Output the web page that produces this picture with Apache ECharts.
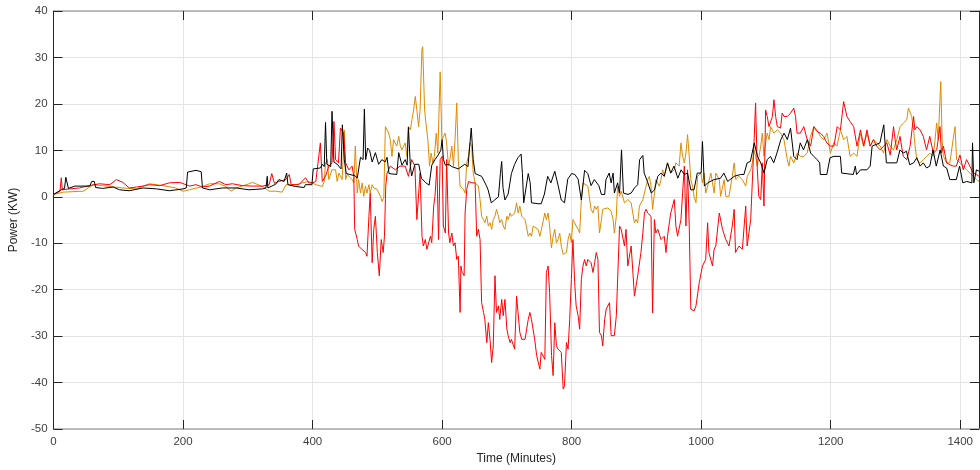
<!DOCTYPE html>
<html>
<head>
<meta charset="utf-8">
<script src="https://cdn.jsdelivr.net/npm/echarts@6/dist/echarts.min.js"></script>
<style>
html,body{margin:0;padding:0;background:#fff;}
#chart{width:980px;height:470px;}
</style>
</head>
<body>
<div id="chart"></div>
<script>
// Tick labels
const xTicks = [0, 200, 400, 600, 800, 1000, 1200, 1400];
const yTicks = [-50, -40, -30, -20, -10, 0, 10, 20, 30, 40];

// Series values: [time (minutes), power (kW)]
const redSeries = [[0,0.5],[10,1.2],[12,4.1],[13.5,1.5],[25,1.7],[40,1.9],[55,2.4],[71,2.8],[87,2.6],[97,3.7],[107,3.1],[117,1.9],[128,2.1],[138,2.3],[148,2.6],[164,2.4],[179,3],[195,3.1],[210,2.3],[220,2.6],[230,2.1],[241,2.3],[256,3.3],[266,2.6],[276,2.8],[292,2.4],[307,2.3],[323,2.3],[333,2.6],[337,5],[341,2.9],[348,3.3],[359,3.7],[364,4.8],[367,2.6],[379,2.6],[389,4.1],[394,3],[400,3],[405,3.3],[412,11.6],[415,3.3],[420,4.4],[425,6.6],[430,7.3],[433,16.2],[435.5,8],[440,7.3],[443,14.8],[448,13.7],[451,7.3],[456,5.8],[461,6.6],[463.7,4.4],[465,-7],[469,-9.2],[471,-10.6],[476,-11.3],[482,-12],[484,-12.8],[487,-4.2],[489,0.8],[492,-14.2],[494.5,-7],[497,-4.2],[500,-12],[503,-17],[506,-9.2],[509,-12],[511,-8.5],[513,2.3],[515,5.1],[520,6.6],[528,5.8],[535,6.6],[543,6.6],[548,4.4],[553,8],[558,6.6],[561,-4.9],[564,-4.9],[566,5.1],[569,-8.5],[571,-10.6],[574,-9.2],[576.5,-11.3],[582,-8.5],[584,-9.9],[587,-2],[589,0.1],[592,6.6],[594.5,-9.2],[597,8],[600,8.7],[602,-6.3],[605,-7.8],[607,8],[610,-7.8],[612,-9.9],[615,-7.8],[617.5,-10.6],[620,-9.9],[622.6,-13.5],[625,-12.8],[627.8,-24.9],[629,-14.9],[631,-16.3],[634,-17],[635.5,-3.5],[638,1.6],[641,3.3],[646,3],[651,3],[653.4,-8.5],[656,-7],[658.6,-9.2],[661,-22.8],[664,-24.9],[666,-26.4],[669,-31.4],[671.4,-27.1],[674,-30.7],[676.5,-35.7],[679,-32.1],[681.6,-17],[684,-24.9],[687,-23.5],[689,-26.4],[692,-22.1],[694.4,-25.6],[697,-22.1],[700,-28.5],[702,-29.9],[705,-31.4],[707,-30.7],[712,-32.8],[715,-21.4],[717.5,-21.4],[720,-29.2],[723,-30.7],[728,-30.7],[733,-26.4],[735.5,-24.9],[738,-26.4],[743,-30.7],[746,-34.2],[748,-34.2],[751,-37.1],[753,-33.5],[758.6,-35],[761,-16.3],[763.7,-14.9],[766,-20.6],[769,-34.2],[771.4,-38.5],[774,-27.1],[776.5,-32.1],[779,-32.8],[782,-32.8],[784,-33.5],[787,-41.4],[789,-40.7],[792,-31.4],[794.5,-32.8],[797,-26.4],[799.6,-17.8],[802,-9.2],[804.7,-18.5],[807,-23.5],[810,-25.6],[812.4,-28.5],[815,-17.8],[817.5,-14.9],[820,-13.5],[822.6,-14.9],[825,-13.5],[830,-14.2],[833,-16.3],[835.5,-14.2],[838,-12],[840.6,-13.5],[843,-29.2],[846,-29.9],[848,-32.1],[851,-26.4],[853.4,-24.2],[858.5,-22.8],[861,-29.9],[866,-29.9],[869,-25.6],[874,-6.3],[876.5,-7],[881.6,-10.6],[884,-7],[886.7,-14.9],[891.9,-10.6],[897,-21.4],[902,-17],[907,-12],[910,-7.8],[912.4,-3.5],[915,-2.7],[917.5,-3.5],[922.6,-4.2],[925,-25],[927.8,-4.9],[930,-7.8],[933,-7],[938,-9.2],[943,-8.5],[945.7,-12],[948,-8.5],[953,-3.5],[958.5,-0.6],[961,-6.3],[963.6,-8.5],[968.8,-4.9],[974,6.6],[976.5,-6.3],[979,5.8],[981.6,-6.3],[984,-24.2],[989,-24.6],[992,-23.5],[997,-18.5],[1002,-14.9],[1007,-13.5],[1010,-5.6],[1012,-12],[1017.5,-14.9],[1020,-11.3],[1022.6,-10.6],[1028,-3.5],[1033,-7],[1038,-9.2],[1043,-10.6],[1048,-6.3],[1051,-2.7],[1053,-12],[1058.5,-10.6],[1063.6,-11.3],[1068.8,-2],[1071,-10.6],[1076.5,-4.9],[1079,-4.9],[1081.6,11.6],[1084,20.2],[1086.7,5.8],[1089,0.1],[1092,-0.6],[1094.4,7.3],[1097,-2],[1099.5,18.7],[1102,17.3],[1104.7,15.1],[1110,17.3],[1112.4,20.9],[1115,17.3],[1117.5,15.1],[1122.6,14.8],[1125,18],[1128,17.3],[1133,17.3],[1138,18],[1143,19.1],[1145.7,17.3],[1148,13.7],[1153,13.7],[1158.5,15.1],[1163.7,12.3],[1169,10.9],[1174,15.1],[1179,14],[1184,13.7],[1189,13],[1194,11.6],[1199.5,10.9],[1205,10.9],[1210,15.1],[1215,14.4],[1220,20.5],[1222.6,20.9],[1225,17.3],[1230,16.2],[1235.5,15.1],[1240.6,10.9],[1246,14.4],[1251,10.9],[1256,14.4],[1261,10.9],[1266,12.3],[1271,10.9],[1276.5,10.1],[1281.6,10.9],[1286.7,11.6],[1292,9],[1297,15.1],[1299.5,12.3],[1302,10.1],[1307,13],[1312,8.7],[1317.5,8],[1322.6,10.9],[1328,17.3],[1330,14.4],[1333,15.1],[1338,14.4],[1343,13],[1348,10.1],[1353,13],[1358.5,9.4],[1363.7,10.1],[1368.8,15.1],[1371,9.4],[1374,10.9],[1379,7.3],[1384,6.9],[1389,6.6],[1394,6.6],[1399.6,9],[1404.7,5.8],[1409.8,8],[1415,6.6],[1420,5.1],[1425,4.8],[1429,4.4]];

const orangeSeries = [[0,0.5],[2,0.5],[15,1],[46,1.2],[61,2.6],[76,2.4],[107,1.9],[128,1.7],[148,2.8],[169,2.4],[189,1.9],[200,1.2],[210,1.5],[230,2.2],[241,2.8],[256,2.8],[266,2.2],[274,1.2],[282,1.9],[302,2.8],[307,3.1],[323,2.2],[333,1.2],[343,1.2],[353,1],[359,2.6],[374,2.6],[384,3],[394,3.3],[405,2.6],[415,2.2],[418,3.3],[420,7.3],[423,8],[425,3.7],[430,5.8],[435.5,5.8],[438,3.3],[440.6,5.1],[445.7,3.7],[449,14.4],[451,3.7],[453.4,4.8],[461,3.7],[463.7,3],[466,10.9],[469,0.8],[471,3.7],[474,0.8],[476.5,3],[479,0.1],[481.6,2.3],[484,0.8],[487,2.6],[489,0.8],[492,2.6],[494.5,1.9],[499.6,1.6],[504.7,0.1],[507.3,-1],[510,-0.2],[512.4,15.1],[515,15.1],[517.5,13.7],[520,12.3],[522.6,8.7],[525,12.3],[527.8,12.6],[530,10.9],[533,13],[535.5,10.9],[538,10.1],[540.6,10.9],[543,11.6],[545.7,8.7],[548,15.1],[551,14.4],[553.4,16.6],[556,18.7],[558.6,21.6],[561,18.7],[563.7,15.1],[566,18.7],[568.8,31.6],[570,32.3],[573,18.7],[575,15.9],[578,12.3],[580.6,6.6],[583,9.4],[585.8,7.3],[588,8.7],[591,13.7],[593.4,9.4],[597,26.9],[599.6,12.3],[602,12.3],[604.7,13.7],[607,11.6],[609.8,6.6],[612,8],[615,10.9],[617.5,6.6],[620,12.3],[622.6,20.2],[625,8],[627.8,2.3],[630,2.3],[633,1.6],[635.5,0.8],[638,7.3],[640.6,8.7],[643,11.6],[645.7,10.9],[648,5.1],[651,3],[653.4,3],[656,2.3],[658.6,-0.6],[661,-4.2],[663.7,-4.9],[666,-5.6],[669,-4.2],[671.4,-6.3],[674,-5.6],[676.5,-7],[679,-4.9],[681.6,-4.2],[684,-2.7],[687,-4.2],[689,-5.6],[692,-4.9],[694.4,-6.3],[697,-7],[700,-4.2],[702,-4.9],[705,-3.5],[707,-4.2],[712,-3.5],[715,-1.3],[717.5,-3.5],[720,-2],[723,-4.2],[728,-4.9],[730,-6.3],[733,-8.5],[735.5,-7.8],[738,-8.5],[740.6,-6.3],[743,-6.3],[748,-7],[751,-8.5],[753.4,-7],[756,-7],[758.6,-3.5],[761,-4.9],[763.7,-3.5],[766,-6.3],[768.8,-11],[771.4,-8.5],[774,-7],[776.5,-9.9],[779,-9.2],[781.6,-7.8],[784,-10.6],[787,-12.4],[789,-12.4],[792,-12],[794.5,-9.2],[797,-7.8],[799.6,-9.9],[802,-4.9],[804.7,-5.6],[807,-6.3],[810,-7],[812.4,-7.8],[815,-0.6],[817.5,3],[820,2.6],[825,2.3],[828,2.3],[830,-2.7],[833,-3.5],[835.5,-2],[838,-2.7],[840.6,-2],[843,-7.8],[846,-4.9],[848,-2.7],[851,-2.7],[856,-2.4],[861,-3.1],[864,-4.9],[866,-7.8],[869,-4.2],[871,2.3],[874,0.1],[876.5,1.2],[881.6,-1.3],[886.7,-0.6],[891.9,-1.3],[894.4,-3.5],[897,-5.6],[899.5,-4.9],[902,-5.6],[904.7,-2],[910,-0.6],[912.4,0.8],[915,2.3],[917.5,3.7],[920,4.4],[922.6,2.3],[925,-2.7],[928,0.8],[930,3.7],[935.5,2.3],[938,3.7],[940.6,5.8],[943,4.4],[948,7.3],[953,5.1],[958.5,5.8],[961,7.3],[966,6.6],[968.8,11.6],[971.4,8.7],[974,7.3],[976.5,9.4],[979,13.4],[981.6,8.7],[984,3.7],[986.7,2.3],[989,0.1],[992,-1.3],[994.4,4.4],[999.5,5.1],[1002,3],[1004.7,5.1],[1007,0.8],[1010,2.3],[1015,5.1],[1017.5,3],[1020,0.8],[1022.6,5.1],[1028,3.7],[1030,0.1],[1033,0.1],[1035.5,3.7],[1038,0.1],[1043,0.1],[1048,4.4],[1051,7.3],[1053.4,3.7],[1058.5,4.4],[1063.6,3.7],[1068.8,2.3],[1071.3,4.4],[1076.5,5.8],[1079,7.3],[1081.6,10.1],[1084,8.7],[1086.7,6.6],[1092,10.9],[1094.4,13.7],[1097,8.7],[1099.5,11.6],[1102,13.7],[1104.7,12.3],[1107.2,15.1],[1112.4,13.7],[1117.5,14.4],[1122.6,13.7],[1127.8,12.3],[1133,8],[1135.5,6.6],[1138,8.7],[1143,7.3],[1148.3,9.4],[1153.4,8.7],[1158.5,8.7],[1163.7,9.4],[1168.8,13],[1174,15.1],[1179,14.4],[1184,13],[1189.3,12.3],[1194.4,13.7],[1199.5,9.4],[1204.7,11.6],[1209.8,10.9],[1215,14.4],[1220,12.3],[1225,13],[1230,8.7],[1235.5,9.4],[1240.6,8.7],[1245.7,13.7],[1250.8,10.9],[1256,13.7],[1261,10.9],[1266,12.3],[1271,11.6],[1276.5,10.9],[1281.6,9.4],[1286.7,12.3],[1292,10.9],[1297,10.1],[1302,12.3],[1307.2,15.1],[1312.4,15.9],[1317.5,16.6],[1320,19.1],[1322.6,18.7],[1325,17.3],[1328,14.4],[1330.3,10.9],[1333,8],[1338,7.3],[1343,8],[1348.3,8.7],[1353.4,9.4],[1358.5,8.7],[1363.7,15.9],[1366,12.3],[1370,24.8],[1372,12.3],[1374,8.7],[1379,7.3],[1384,7.3],[1389,12.3],[1392,15.1],[1394.4,8],[1399.6,7.3],[1404.7,6.6],[1409.8,5.8],[1415,5.1],[1420,4.4],[1425,3.7],[1429,3.3]];

const blackSeries = [[0,0.5],[2,0.8],[12,1.5],[17,1.8],[19,4.2],[22,4],[23,1.8],[33,2.3],[56,2.3],[59,3.3],[63,3.3],[65,2],[76,1.8],[92,2.1],[102,1.5],[117,1.3],[138,1.9],[159,1.7],[179,1.3],[200,1.7],[205,1.9],[207,5.3],[220,5.7],[228,5.4],[230,1.9],[241,1.5],[261,1.9],[282,1.9],[302,1.5],[323,1.7],[328,1.9],[330,4.4],[331,1.9],[343,2.7],[348,3.7],[356,3.3],[360,5.1],[362,2.6],[374,2.2],[387,2],[389,2.6],[399,2.6],[401,6],[412,6.2],[415,7],[418,6.5],[420,16],[422,7],[428,6.5],[430,18.4],[433,7.5],[438,7],[444,6],[446,15.5],[449,8],[452,5],[466,4.5],[469,4],[474,8.5],[478,8],[480,18.9],[482,8],[485,10.5],[488,10],[492,7.5],[497,9.5],[502,7],[507,8],[512,7.5],[515,8.5],[518,5],[530,4.8],[533,9.5],[538,6.8],[543,8],[546,6.8],[548,15],[551,6.5],[553,4.5],[558,7],[564,7],[568,4],[575,3],[580,2.5],[584,6.8],[589,8],[594,9],[598,10],[600,12.3],[602,8],[605,6.8],[610,7],[615,6.5],[625,6],[635,7],[640,6.5],[645,14.8],[648,8],[651,5],[661,4.4],[668,2.5],[671,1.5],[676,-1.3],[681,-0.7],[687,0],[690,5],[692,7.6],[694,2],[697,-0.7],[702,0.6],[707,5],[712,7],[717,8.4],[722,9.2],[724,5],[726,-1.3],[733,5],[736,3],[738,-1.3],[748,-1.5],[753,-1.5],[758,0.6],[763,4.4],[768,3],[774,5.5],[779,2.5],[784,-0.7],[789,-1.3],[794,3.8],[800,5],[805,4.8],[810,3.8],[815,-0.7],[820,5.7],[825,5],[830,2.4],[835,3.7],[842,2.4],[846,0.5],[851,0.5],[853,3.7],[858,5.1],[861,3],[864,5.1],[866,0.8],[871,3],[874,0.8],[877,10.1],[880,0.8],[887,0.5],[892,0.8],[897,1.9],[902,2.6],[905,8],[910,8.9],[912,5.1],[917,3.3],[923,0.8],[928,1.5],[933,4.4],[938,5.1],[943,4.4],[948,7.3],[953,5.1],[958,6.6],[964,4],[969,5.8],[974,4.8],[979,5.1],[984,1.5],[989,1.5],[994,5.1],[1000,5.1],[1002,11.9],[1005,2.3],[1010,3],[1020,3.7],[1030,4],[1035,5.1],[1041,3.3],[1051,4.4],[1061,4.8],[1066,4.8],[1071,7.3],[1076,7.6],[1082,11.6],[1087,8.7],[1092,7.3],[1097,5.1],[1102,8],[1107,8.7],[1112,7.3],[1117,9.4],[1123,12.3],[1128,13.7],[1133,12.3],[1138,14.8],[1143,8.7],[1148,8],[1153,11.6],[1158,10.1],[1164,12.3],[1169,9.4],[1174,8.7],[1179,8],[1183,7.3],[1184,4.8],[1194,4.8],[1199,8.4],[1205,8.7],[1215,8.7],[1217,5.1],[1220,4.8],[1235,4.8],[1238,6.6],[1240,4.8],[1246,5.8],[1256,5.8],[1261,6.6],[1264,10.9],[1276,11.6],[1282,15.5],[1286,7.3],[1302,7.3],[1307,10.1],[1312,9.4],[1317,9.8],[1322,6.9],[1328,7.3],[1333,8.4],[1338,6.6],[1343,7.3],[1348,6.2],[1353,6.6],[1358,10.1],[1363,6.6],[1369,10.1],[1374,6.6],[1379,6.2],[1384,3.7],[1394,3.7],[1399,6.6],[1404,3],[1410,3.3],[1418,3],[1419,11.6],[1421,3],[1425,5.8],[1429,5.5]];

const X_MIN = 0, X_MAX = 1429, Y_MIN = -50, Y_MAX = 40;

const chart = echarts.init(document.getElementById('chart'), null, {renderer: 'canvas'});
const FONT = 'Liberation Sans, Arial, Helvetica, sans-serif';
const labelFont = {color: '#404040', fontSize: 11.5, fontFamily: FONT};
const tickStyle = {color: '#262626', width: 1};
const frameGray = {color: '#a8a8a8', width: 1.5};

chart.setOption({
  animation: false,
  backgroundColor: '#ffffff',
  grid: {left: 50, right: 1, top: 11, bottom: 40, containLabel: false},
  xAxis: [{
    type: 'value', min: X_MIN, max: X_MAX, interval: 200, position: 'bottom',
    name: 'Time (Minutes)', nameLocation: 'middle', nameGap: 24,
    nameTextStyle: {color: '#262626', fontSize: 12, fontFamily: FONT},
    axisLine: {show: true, onZero: false, lineStyle: frameGray},
    axisTick: {show: true, inside: true, length: 9, lineStyle: tickStyle},
    axisLabel: Object.assign({margin: 7, showMaxLabel: false,
      formatter: v => xTicks.indexOf(v) >= 0 ? String(v) : ''}, labelFont),
    splitLine: {show: true, lineStyle: {color: '#e4e4e4', width: 1}}
  }, {
    type: 'value', min: X_MIN, max: X_MAX, interval: 200, position: 'top',
    axisLine: {show: true, onZero: false, lineStyle: frameGray},
    axisTick: {show: true, inside: true, length: 9, lineStyle: tickStyle},
    axisLabel: {show: false},
    splitLine: {show: false}
  }],
  yAxis: [{
    type: 'value', min: Y_MIN, max: Y_MAX, interval: 10, position: 'left',
    name: 'Power (KW)', nameLocation: 'middle', nameGap: 26,
    nameTextStyle: {color: '#262626', fontSize: 12, fontFamily: FONT},
    axisLine: {show: true, onZero: false, lineStyle: {color: '#262626', width: 1}},
    axisTick: {show: true, inside: true, length: 9, lineStyle: tickStyle},
    axisLabel: Object.assign({margin: 6,
      formatter: v => yTicks.indexOf(v) >= 0 ? String(v) : ''}, labelFont),
    splitLine: {show: true, lineStyle: {color: '#e4e4e4', width: 1}}
  }, {
    type: 'value', min: Y_MIN, max: Y_MAX, interval: 10, position: 'right',
    axisLine: {show: true, onZero: false, lineStyle: {color: '#262626', width: 1}},
    axisTick: {show: true, inside: true, length: 9, lineStyle: tickStyle},
    axisLabel: {show: false},
    splitLine: {show: false}
  }],
  series: [
    {name: 'Orange', type: 'line', data: orangeSeries, showSymbol: false, symbol: 'none',
     lineStyle: {color: '#e08a00', width: 1}, z: 2},
    {name: 'Red', type: 'line', data: redSeries, showSymbol: false, symbol: 'none',
     lineStyle: {color: '#ff0000', width: 1}, z: 3},
    {name: 'Black', type: 'line', data: blackSeries, showSymbol: false, symbol: 'none',
     lineStyle: {color: '#000000', width: 1}, z: 4}
  ]
});
</script>
</body>
</html>
